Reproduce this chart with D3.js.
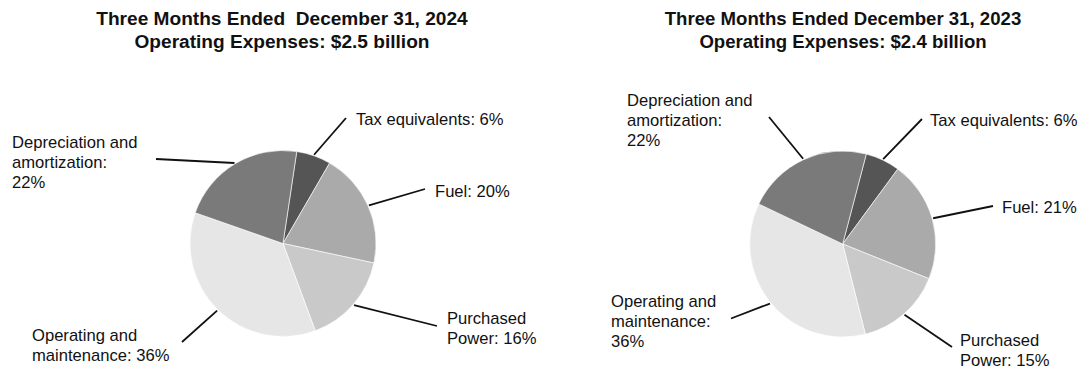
<!DOCTYPE html>
<html>
<head>
<meta charset="utf-8">
<script src="https://cdn.jsdelivr.net/npm/d3@7"></script>
<style>
  html, body { margin: 0; padding: 0; background: #fff; }
  svg { display: block; }
  text { font-family: "Liberation Sans", Arial, sans-serif; fill: #111; white-space: pre; }
</style>
</head>
<body>
<svg id="chart" width="1080" height="369"></svg>
<script>
// Expense categories, in clockwise order from the first slice
const categories = ["Tax equivalents", "Fuel", "Purchased Power", "Operating and maintenance", "Depreciation and amortization"];

// Share of operating expenses (%)
const values2024 = [6, 20, 16, 36, 22];
const values2023 = [6, 21, 15, 36, 22];

// Title lines
const titles2024 = ["Three Months Ended  December 31, 2024", "Operating Expenses: $2.5 billion"];
const titles2023 = ["Three Months Ended December 31, 2023", "Operating Expenses: $2.4 billion"];

// Label text per slice; {v} is replaced by the slice value
const labelLines2024 = [["Tax equivalents: {v}%"], ["Fuel: {v}%"], ["Purchased", "Power: {v}%"], ["Operating and", "maintenance: {v}%"], ["Depreciation and", "amortization:", "{v}%"]];
const labelLines2023 = [["Tax equivalents: {v}%"], ["Fuel: {v}%"], ["Purchased", "Power: {v}%"], ["Operating and", "maintenance:", "{v}%"], ["Depreciation and", "amortization:", "{v}%"]];

// Slice fills by category
const fills = ["#555555", "#aaaaaa", "#c9c9c9", "#e6e6e6", "#7a7a7a"];

// Layout of each panel: pie centre, radius, rotation of first slice,
// and for every slice the leader-line end and label anchor (text baseline of first line).
const panels = [
  {
    values: values2024, titles: titles2024, lines: labelLines2024,
    cx: 283, cy: 243.5, r: 93, rotate: 8.5, titleX: 282, titleSize: 19.1,
    leaders: [
      { end: [346, 118], label: [356, 125] },
      { end: [425, 189], label: [435, 196.5] },
      { end: [437, 326], label: [447, 323.5] },
      { end: [182, 342], label: [32, 340.5] },
      { end: [156, 159], label: [12, 148] }
    ]
  },
  {
    values: values2023, titles: titles2023, lines: labelLines2023,
    cx: 842.7, cy: 244, r: 93, rotate: 14.7, titleX: 843, titleSize: 18.6,
    leaders: [
      { end: [922, 119], label: [930, 126] },
      { end: [993, 206], label: [1002, 212.5] },
      { end: [952, 347], label: [960, 346] },
      { end: [731, 318.5], label: [611, 307] },
      { end: [769, 117], label: [627, 105.5] }
    ]
  }
];

const svg = d3.select("#chart");
const lineHeight = 20;

panels.forEach(p => {
  const g = svg.append("g");

  // Titles
  g.selectAll("text.title")
    .data(p.titles)
    .join("text")
    .attr("class", "title")
    .attr("x", p.titleX)
    .attr("y", (d, i) => 24.5 + i * 23.5)
    .attr("text-anchor", "middle")
    .style("font-weight", "bold")
    .style("font-size", p.titleSize + "px")
    .text(d => d);

  const rot = p.rotate * Math.PI / 180;
  const pie = d3.pie().sort(null).value(d => d)
    .startAngle(rot).endAngle(rot + 2 * Math.PI);
  const arcs = pie(p.values);
  const arc = d3.arc().innerRadius(0).outerRadius(p.r);

  const pg = g.append("g").attr("transform", `translate(${p.cx},${p.cy})`);

  pg.selectAll("path.slice")
    .data(arcs)
    .join("path")
    .attr("class", "slice")
    .attr("d", arc)
    .attr("fill", (d, i) => fills[i])
    .attr("stroke", "#ffffff")
    .attr("stroke-width", 0.6);

  // Leader lines: from the rim at each slice's mid-angle out to its label
  arcs.forEach((a, i) => {
    const mid = (a.startAngle + a.endAngle) / 2;
    const sx = p.cx + Math.sin(mid) * (p.r + 1);
    const sy = p.cy - Math.cos(mid) * (p.r + 1);
    const L = p.leaders[i];
    g.append("line")
      .attr("x1", sx).attr("y1", sy)
      .attr("x2", L.end[0]).attr("y2", L.end[1])
      .attr("stroke", "#111")
      .attr("stroke-width", 1.8);

    const t = g.append("text")
      .attr("x", L.label[0])
      .attr("y", L.label[1])
      .style("font-size", "16.6px");
    p.lines[i].forEach((ln, k) => {
      t.append("tspan")
        .attr("x", L.label[0])
        .attr("dy", k === 0 ? 0 : lineHeight)
        .text(ln.replace("{v}", a.data));
    });
  });
});
</script>
</body>
</html>
